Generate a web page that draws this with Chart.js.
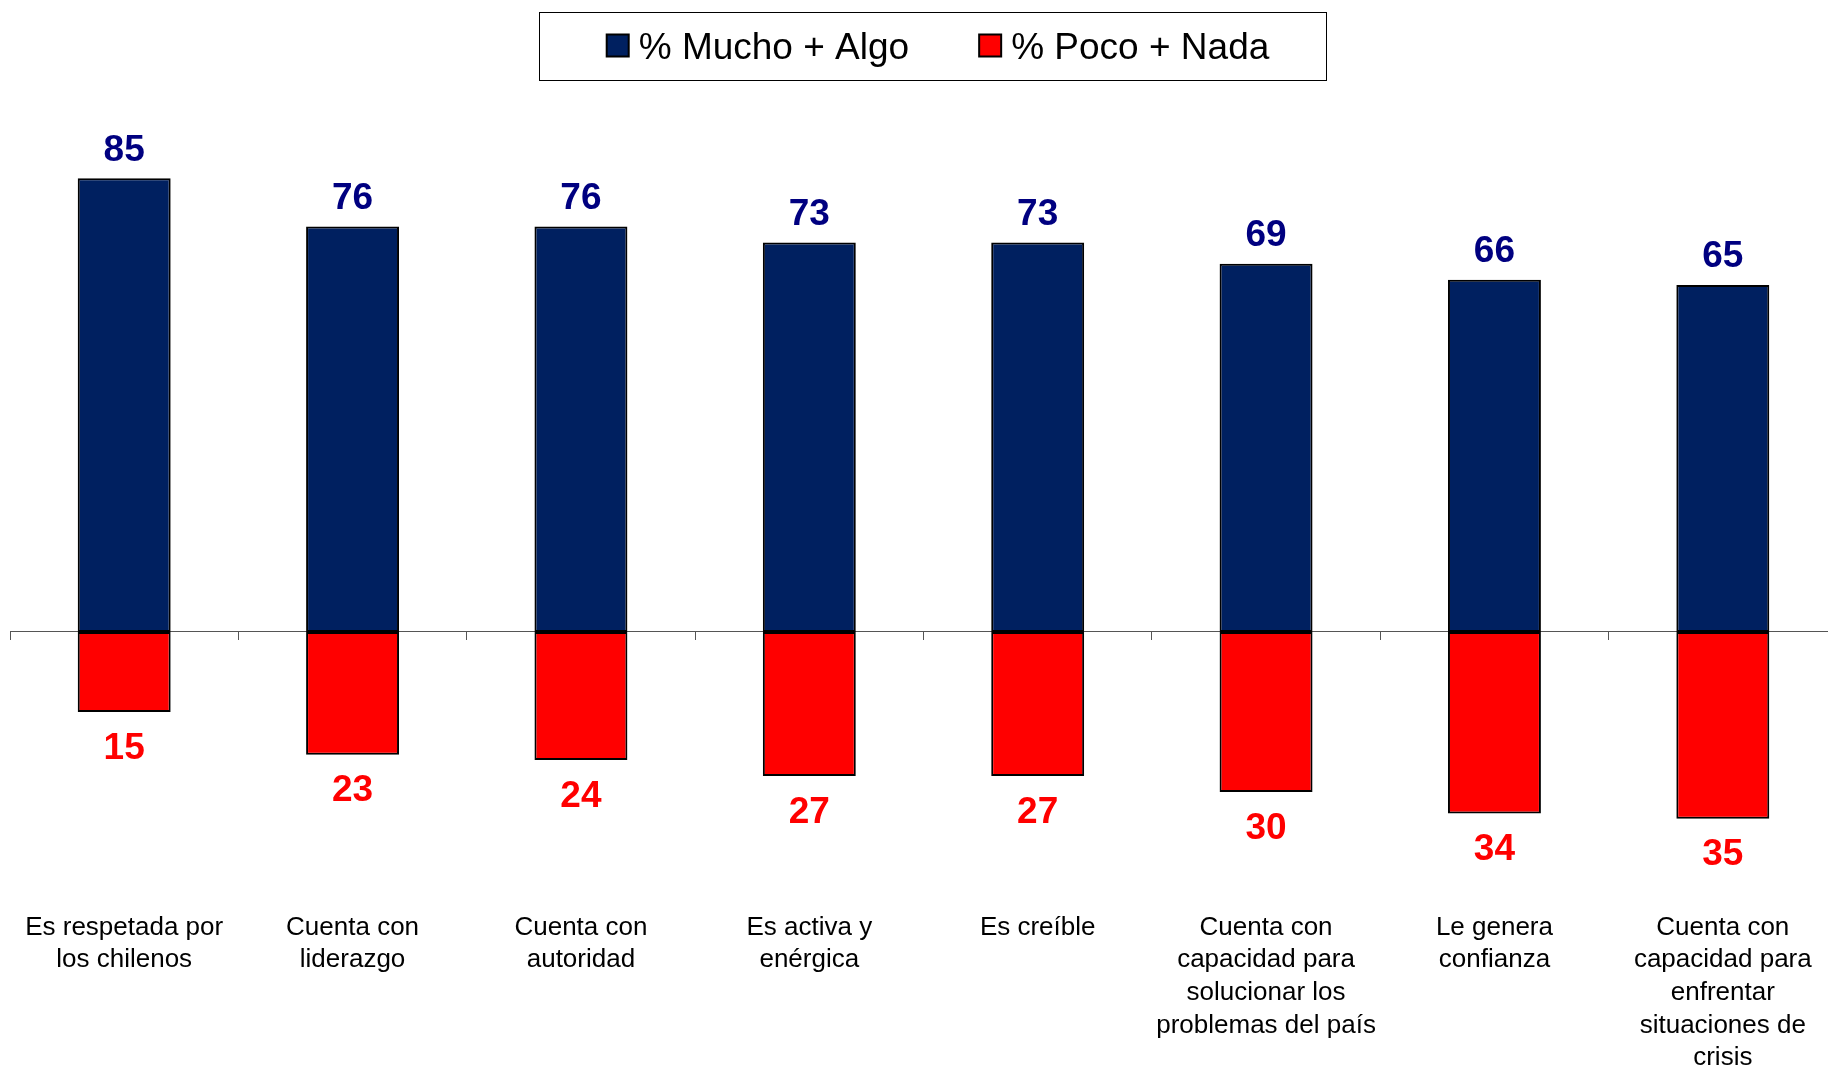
<!DOCTYPE html>
<html>
<head>
<meta charset="utf-8">
<script src="https://cdn.jsdelivr.net/npm/chart.js@4.4.0/dist/chart.umd.min.js"></script>
<style>
  html, body { margin: 0; padding: 0; overflow: hidden; background: #fff; }
  canvas { display: block; }
</style>
</head>
<body>
<canvas id="grafico" width="1837" height="1087"></canvas>
<script>
// categorias (eje x), en varias lineas
let atributos = [
    ["Es respetada por", "los chilenos"],
    ["Cuenta con", "liderazgo"],
    ["Cuenta con", "autoridad"],
    ["Es activa y", "enérgica"],
    ["Es creíble"],
    ["Cuenta con", "capacidad para", "solucionar los", "problemas del país"],
    ["Le genera", "confianza"],
    ["Cuenta con", "capacidad para", "enfrentar", "situaciones de", "crisis"]
];
let muchoAlgo = [85, 76, 76, 73, 73, 69, 66, 65];
let pocoNada = [15, 23, 24, 27, 27, 30, 34, 35];
let nombresSeries = ["% Mucho + Algo", "% Poco + Nada"];

const azul = '#002060';
const rojo = '#FF0000';

// etiquetas de valor encima / debajo de cada barra
const etiquetasValor = {
    id: 'etiquetasValor',
    afterDatasetsDraw(chart) {
        const ctx = chart.ctx;
        ctx.save();
        ctx.font = 'bold 37px "Liberation Sans", Arial, sans-serif';
        ctx.textAlign = 'center';
        ctx.textBaseline = 'alphabetic';
        chart.data.datasets.forEach((ds, i) => {
            chart.getDatasetMeta(i).data.forEach((barra, j) => {
                const v = ds.data[j];
                if (v >= 0) {
                    ctx.fillStyle = '#000080';
                    ctx.fillText(Math.abs(v), barra.x, barra.y - 17.6);
                } else {
                    ctx.fillStyle = rojo;
                    ctx.fillText(Math.abs(v), barra.x, barra.y + 46.6);
                }
            });
        });
        ctx.restore();
    }
};

// leyenda con recuadro, como en el original
const leyenda = {
    id: 'leyendaRecuadro',
    afterDraw(chart) {
        const ctx = chart.ctx;
        ctx.save();
        ctx.font = '37px "Liberation Sans", Arial, sans-serif';
        const cuadro = 22, hueco = 10, separacion = 70;
        let items = chart.data.datasets.map(ds => ({
            texto: ds.label,
            color: ds.backgroundColor,
            ancho: ctx.measureText(ds.label).width
        }));
        let total = 0;
        items.forEach((it, i) => { total += cuadro + hueco + it.ancho + (i > 0 ? separacion : 0); });
        let x = 938 - total / 2;

        ctx.strokeStyle = '#000';
        ctx.lineWidth = 1;
        ctx.strokeRect(Math.round(x - 68) + 0.5, 12.5, Math.round(total + 68 + 56), 68);

        ctx.textBaseline = 'alphabetic';
        ctx.textAlign = 'left';
        items.forEach((it) => {
            ctx.fillStyle = it.color;
            ctx.fillRect(x, 34.5, cuadro, cuadro);
            ctx.lineWidth = 2;
            ctx.strokeRect(x, 34.5, cuadro, cuadro);
            ctx.fillStyle = '#000';
            ctx.fillText(it.texto, x + cuadro + hueco, 59.3);
            x += cuadro + hueco + it.ancho + separacion;
        });
        ctx.restore();
    }
};

let ctx = document.getElementById("grafico");

new Chart(ctx, {
    type: "bar",
    data: {
        labels: atributos,
        datasets: [
            {
                label: nombresSeries[0],
                data: muchoAlgo,
                backgroundColor: azul,
                borderColor: '#000',
                borderWidth: 2,
                borderSkipped: false,
                barPercentage: 0.407,
                categoryPercentage: 1
            },
            {
                label: nombresSeries[1],
                data: pocoNada.map(v => -v),
                backgroundColor: rojo,
                borderColor: '#000',
                borderWidth: 2,
                borderSkipped: false,
                barPercentage: 0.407,
                categoryPercentage: 1
            }
        ]
    },
    options: {
        responsive: false,
        animation: false,
        layout: {
            autoPadding: false,
            padding: { top: 125, left: 10, right: 0, bottom: 0 }
        },
        plugins: {
            legend: { display: false },
            tooltip: { enabled: false }
        },
        scales: {
            x: {
                stacked: true,
                grid: { display: false, drawTicks: false },
                border: { display: false },
                ticks: {
                    padding: 12.6,
                    color: '#000',
                    maxRotation: 0,
                    autoSkip: false,
                    font: { family: '"Liberation Sans", Arial, sans-serif', size: 26, lineHeight: 1.254 }
                }
            },
            x2: {
                type: 'category',
                position: { y: 0 },
                offset: true,
                grid: { offset: true, drawOnChartArea: false, drawTicks: true, tickLength: 8, color: '#555', lineWidth: 1 },
                border: { display: true, color: '#555', width: 1 },
                ticks: { display: false }
            },
            y: {
                stacked: true,
                display: false,
                min: -50,
                max: 95
            }
        }
    },
    plugins: [etiquetasValor, leyenda]
});
</script>
</body>
</html>
